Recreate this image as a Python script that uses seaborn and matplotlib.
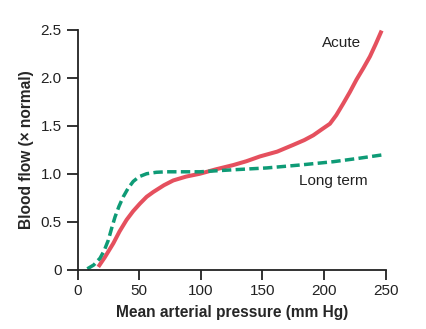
import matplotlib
matplotlib.use("Agg")
import matplotlib.pyplot as plt
import seaborn as sns
import pandas as pd

acute_x = [16.7, 22, 28.9, 34, 39.7, 45, 50.6, 56, 61.4, 70, 77.6, 88, 99.3, 112, 126.3, 137, 148, 162, 175, 184, 191.3, 198, 204.8, 210, 215.6, 221, 226.4, 232, 237.3, 242, 246.8]
acute_y = [0.03, 0.13, 0.275, 0.40, 0.52, 0.61, 0.69, 0.76, 0.81, 0.88, 0.93, 0.97, 1.0, 1.045, 1.09, 1.13, 1.18, 1.23, 1.30, 1.35, 1.40, 1.46, 1.52, 1.61, 1.73, 1.85, 1.98, 2.10, 2.22, 2.35, 2.49]
long_x = [7.8, 13, 18.1, 21.5, 24.9, 27.5, 30.3, 33.5, 37, 41, 45.1, 50, 56, 64, 72.2, 85, 99.3, 125, 153.4, 180, 207.5, 228, 246.8]
long_y = [0.01, 0.05, 0.12, 0.20, 0.31, 0.43, 0.55, 0.66, 0.76, 0.85, 0.92, 0.97, 1.0, 1.015, 1.02, 1.02, 1.02, 1.04, 1.06, 1.09, 1.125, 1.16, 1.195]
x_ticks = [0, 50, 100, 150, 200, 250]
y_ticks = [0, 0.5, 1.0, 1.5, 2.0, 2.5]
y_tick_labels = ["0", "0.5", "1.0", "1.5", "2.0", "2.5"]

sns.set_style("ticks")
plt.rcParams['font.family'] = ['Liberation Sans', 'DejaVu Sans']

fig = plt.figure(figsize=(4.27, 3.29), dpi=100)
ax = fig.add_axes([0.182, 0.180, 0.721, 0.730])

df_a = pd.DataFrame({"x": acute_x, "y": acute_y})
df_l = pd.DataFrame({"x": long_x, "y": long_y})
red = "#E5505E"
green = "#0E9B76"
sns.lineplot(data=df_a, x="x", y="y", ax=ax, color=red, linewidth=2.9, sort=False)
sns.lineplot(data=df_l, x="x", y="y", ax=ax, color=green, linewidth=2.5, sort=False)
ax.lines[1].set_dashes([2.7, 1.25])
for ln in ax.lines:
    ln.set_clip_on(False)
    ln.set_solid_capstyle("butt")
    ln.set_dash_capstyle("butt")
    ln.set_solid_joinstyle("round")

ax.set_xlim(0, 250)
ax.set_ylim(0, 2.5)
ax.set_xticks(x_ticks)
ax.set_yticks(y_ticks)
ax.set_yticklabels(y_tick_labels)
ax.tick_params(axis="both", labelsize=11, colors="#222222", width=1.3, length=7)
ax.tick_params(axis="y", length=8)
for s in ["left", "bottom"]:
    ax.spines[s].set_linewidth(1.3)
    ax.spines[s].set_color("#222222")
sns.despine(ax=ax)

ax.set_xlabel("Mean arterial pressure (mm Hg)", fontsize=11.2, fontweight="bold", labelpad=5)
ax.set_ylabel("Blood flow (× normal)", fontsize=11.2, fontweight="bold", labelpad=5)

ax.text(214, 2.36, "Acute", fontsize=11, ha="center", va="center", color="#222222")
ax.text(207.5, 0.92, "Long term", fontsize=11, ha="center", va="center", color="#222222")

fig.savefig("out.png", dpi=100)
